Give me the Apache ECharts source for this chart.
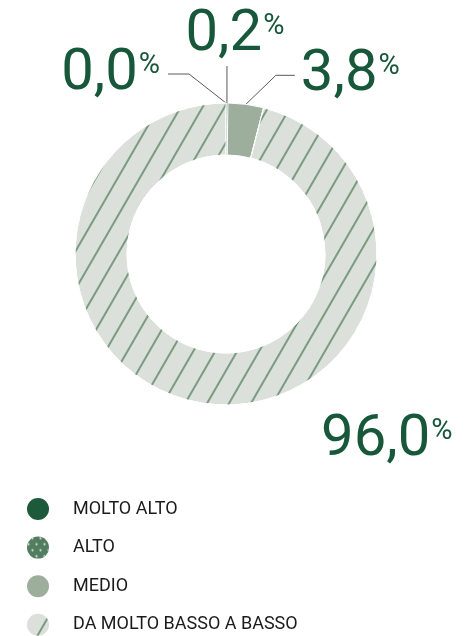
<!DOCTYPE html>
<html>
<head>
<meta charset="utf-8">
<title>Distribuzione per classe</title>
<script src="https://cdn.jsdelivr.net/npm/echarts@6/dist/echarts.min.js"></script>
<style>
  html, body { margin: 0; padding: 0; background: #ffffff; }
  #chart { width: 473px; height: 636px; }
</style>
</head>
<body>
<div id="chart"></div>
<script>
// Class names (legend order) and their shares in percent
const categories = ['MOLTO ALTO', 'ALTO', 'MEDIO', 'DA MOLTO BASSO A BASSO'];
const shares = [0.0, 0.2, 3.8, 96.0];

const GREEN_TEXT = '#17573a';

// Fill per class; ALTO is dotted, the lowest class is hatched
const fills = ['#1d5a3b', '#527d60', '#9dae9c', '#dbe0da'];
const decals = [
  null,
  {
    symbol: 'circle', symbolSize: 0.75, color: '#dde5dc',
    dashArrayX: [[3, 5], [0, 4, 3, 1]], dashArrayY: [3, 2.5]
  },
  null,
  {
    symbol: 'rect', symbolSize: 1, color: '#7a9a81',
    dashArrayX: [1, 0], dashArrayY: [1.2, 16.8], rotation: -Math.PI / 3
  }
];
// Separator width between sectors (the tiny ones keep their full width)
const separators = [0, 0, 1, 1];

function fmt(v) {
  return v.toFixed(1).replace('.', ',');
}

const data = categories.map(function (name, i) {
  const item = {
    name: name,
    value: shares[i],
    itemStyle: { color: fills[i], borderWidth: separators[i] }
  };
  if (decals[i]) item.itemStyle.decal = decals[i];
  if (i === 3) item.labelLine = { show: false };
  return item;
});

const chart = echarts.init(document.getElementById('chart'), null, { renderer: 'canvas' });

chart.setOption({
  animation: false,
  backgroundColor: '#ffffff',
  legend: {
    orient: 'vertical',
    left: 27,
    top: 498,
    height: 200,
    padding: 0,
    itemWidth: 22,
    itemHeight: 22,
    itemGap: 16.6,
    icon: 'circle',
    selectedMode: false,
    data: categories,
    itemStyle: { borderWidth: 0 },
    textStyle: {
      fontFamily: 'Roboto',
      fontSize: 18,
      lineHeight: 22,
      color: '#1b1b1b',
      padding: [0, 0, 0, 19]
    }
  },
  series: [{
    type: 'pie',
    center: [226, 254],
    radius: [99, 151],
    startAngle: 90,
    clockwise: true,
    avoidLabelOverlap: false,
    itemStyle: { borderColor: '#ffffff', borderWidth: 1 },
    emphasis: { disabled: true },
    label: {
      show: true,
      position: 'outside',
      formatter: function (p) {
        return '{n|' + fmt(p.value) + '}{p|%}';
      },
      rich: {
        n: {
          fontFamily: 'Roboto', fontWeight: 400, fontSize: 58,
          lineHeight: 58, color: GREEN_TEXT
        },
        p: {
          fontFamily: 'Roboto', fontWeight: 400, fontSize: 29,
          lineHeight: 29, verticalAlign: 'top', color: GREEN_TEXT,
          padding: [6, 0, 0, 1]
        }
      }
    },
    labelLine: {
      show: true,
      lineStyle: { color: '#5a5a5a', width: 1 }
    },
    labelLayout: function (p) {
      const i = p.dataIndex;
      if (i === 3) {
        const r = p.rect;
        return {
          x: r.x + r.width + 75, y: r.y + r.height + 35,
          align: 'right', verticalAlign: 'middle'
        };
      }
      const a = p.labelLinePoints[0];
      if (i === 0) {
        return {
          x: a[0] - 66, y: a[1] - 29, align: 'right', verticalAlign: 'middle',
          labelLinePoints: [[a[0], a[1]], [a[0] - 37, a[1] - 29], [a[0] - 58, a[1] - 29]]
        };
      }
      if (i === 1) {
        return {
          x: a[0] + 8, y: a[1] - 68, align: 'center', verticalAlign: 'middle',
          labelLinePoints: [[a[0], a[1]], [a[0], a[1] - 37], [a[0], a[1] - 37]]
        };
      }
      return {
        x: a[0] + 55, y: a[1] - 29, align: 'left', verticalAlign: 'middle',
        labelLinePoints: [[a[0], a[1]], [a[0] + 30, a[1] - 29], [a[0] + 49, a[1] - 29]]
      };
    },
    data: data
  }]
});
</script>
</body>
</html>
